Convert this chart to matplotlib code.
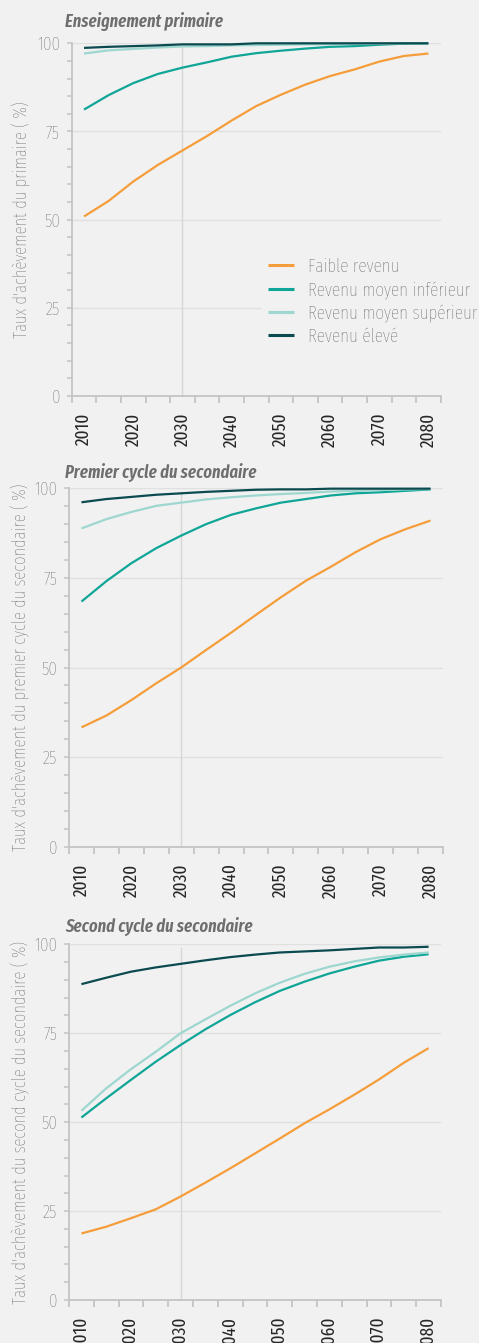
import matplotlib
matplotlib.use("Agg")
import matplotlib.pyplot as plt
from matplotlib.ticker import FixedLocator
import warnings
warnings.filterwarnings("ignore")

years = [2010, 2015, 2020, 2025, 2030, 2035, 2040, 2045, 2050, 2055, 2060, 2065, 2070, 2075, 2080]
series_names = ["Faible revenu", "Revenu moyen inférieur", "Revenu moyen supérieur", "Revenu élevé"]

primaire_faible = [50.9, 55.3, 60.8, 65.5, 69.6, 73.7, 78.1, 82.2, 85.4, 88.3, 90.7, 92.6, 94.8, 96.4, 97.1]
primaire_inf = [81.2, 85.3, 88.7, 91.3, 93.1, 94.6, 96.2, 97.2, 97.9, 98.5, 99.0, 99.2, 99.6, 99.9, 100.0]
primaire_sup = [97.1, 98.0, 98.4, 98.8, 99.1, 99.2, 99.4, 99.5, 99.6, 99.7, 99.75, 99.8, 99.9, 99.95, 100.0]
primaire_eleve = [98.7, 99.0, 99.2, 99.4, 99.7, 99.7, 99.7, 100.0, 100.0, 100.0, 100.0, 100.0, 100.0, 100.0, 100.0]

premier_faible = [33.3, 36.6, 40.9, 45.6, 50.0, 54.9, 59.7, 64.7, 69.6, 74.2, 78.1, 82.2, 85.8, 88.6, 91.0]
premier_inf = [68.4, 74.1, 79.1, 83.3, 86.8, 90.0, 92.6, 94.4, 96.0, 97.0, 98.0, 98.6, 98.9, 99.3, 99.7]
premier_sup = [88.8, 91.4, 93.4, 95.1, 96.0, 96.9, 97.5, 98.0, 98.4, 98.7, 99.1, 99.3, 99.5, 99.7, 99.8]
premier_eleve = [96.1, 97.0, 97.6, 98.2, 98.6, 99.0, 99.3, 99.6, 99.7, 99.7, 99.9, 99.9, 99.9, 99.9, 99.9]

second_faible = [18.7, 20.6, 23.0, 25.5, 29.1, 33.0, 37.0, 41.2, 45.4, 49.7, 53.6, 57.7, 62.0, 66.7, 70.8]
second_inf = [51.3, 56.7, 61.9, 67.0, 71.7, 76.1, 80.1, 83.7, 86.9, 89.5, 91.8, 93.7, 95.4, 96.5, 97.2]
second_sup = [53.2, 59.5, 64.9, 69.8, 75.0, 78.9, 82.7, 86.2, 89.2, 91.7, 93.7, 95.2, 96.3, 97.1, 97.7]
second_eleve = [88.8, 90.6, 92.3, 93.5, 94.5, 95.5, 96.4, 97.1, 97.7, 98.0, 98.3, 98.7, 99.1, 99.1, 99.3]

panel_titles = ["Enseignement primaire", "Premier cycle du secondaire", "Second cycle du secondaire"]
panel_ylabels = ["Taux d'achèvement du primaire ( %)",
                 "Taux d'achèvement du premier cycle du secondaire ( %)",
                 "Taux d'achèvement du second cycle du secondaire ( %)"]
panel_data = [
    [primaire_faible, primaire_inf, primaire_sup, primaire_eleve],
    [premier_faible, premier_inf, premier_sup, premier_eleve],
    [second_faible, second_inf, second_sup, second_eleve],
]
xtick_labels = [2010, 2020, 2030, 2040, 2050, 2060, 2070, 2080]
ytick_labels = [0, 25, 50, 75, 100]
ref_year = 2030

colors = ["#f59d3a", "#0fa597", "#9dd7cf", "#0b4a4f"]
BG = "#f1f1f1"
TXT = "#555555"
SPINE = "#c4c4c4"
GRID = "#e0e0e0"
FONT = ["Fira Sans Extra Condensed", "Fira Sans Condensed", "DejaVu Sans"]

W, H = 479, 1343
plt.rcParams['font.family'] = FONT
fig = plt.figure(figsize=(W / 100, H / 100), dpi=100, facecolor=BG)

rects = [(71.7, 440.7, 43.3, 396.0), (69.0, 443.0, 488.3, 846.7), (69.0, 441.0, 944.3, 1300.0)]
title_y = [22, 473, 927]
ylabel_x = [21, 20, 20]

for i, (l, r, t, b) in enumerate(rects):
    ax = fig.add_axes([l / W, 1 - b / H, (r - l) / W, (b - t) / H])
    ax.set_facecolor(BG)
    ax.set_xlim(2007.5, 2082.5)
    ax.set_ylim(0, 100)
    for y in ytick_labels[1:]:
        ax.axhline(y, color=GRID, lw=1.0, zorder=0)
    ax.axvline(ref_year, ymax=0.99, color="#d6d6d6", lw=1.0, zorder=0.5)
    for vals, c, n in zip(panel_data[i], colors, series_names):
        ax.plot(years, vals, color=c, lw=1.6, label=n, clip_on=False, zorder=3,
                solid_capstyle='butt')
    for s in ["top", "right"]:
        ax.spines[s].set_visible(False)
    for s in ["left", "bottom"]:
        ax.spines[s].set_color(SPINE)
        ax.spines[s].set_linewidth(1.3)
    ax.set_xticks(xtick_labels)
    ax.set_xticklabels([str(v) for v in xtick_labels], rotation=90, fontsize=13.5,
                       color="#262626", fontweight="normal")
    ax.xaxis.set_minor_locator(FixedLocator([2007.5 + 5 * k for k in range(16)]))
    ax.tick_params(axis="x", which="major", length=0, pad=12)
    ax.tick_params(axis="x", which="minor", length=5, color=SPINE, width=1.3)
    ax.set_yticks(ytick_labels)
    ax.set_yticklabels([str(v) for v in ytick_labels], fontsize=13.5, color="#606060",
                       fontweight="light")
    ax.yaxis.set_minor_locator(FixedLocator(list(range(0, 101, 5))))
    ax.tick_params(axis="y", which="both", length=3.5, color=SPINE, width=1.1, pad=5)
    fig.text(65 / W, 1 - title_y[i] / H, panel_titles[i], fontsize=13, fontweight="semibold",
             fontstyle="italic", color="#6e6e6e", ha="left", va="center")
    fig.text(ylabel_x[i] / W, 1 - ((t + b) / 2) / H, panel_ylabels[i], rotation=90,
             fontsize=13, color=TXT, ha="center", va="center", fontweight="light")
    if i == 0:
        leg = ax.legend(loc="upper left", bbox_to_anchor=(262 / W, 1 - 252 / H),
                        bbox_transform=fig.transFigure, frameon=True, facecolor=BG,
                        edgecolor="none", framealpha=1, handlelength=1.4,
                        handletextpad=0.75, labelspacing=0.3, borderpad=0.3,
                        borderaxespad=0, prop={"weight": "light", "size": 13.5})
        for t_ in leg.get_texts():
            t_.set_color(TXT)
        for h in leg.get_lines():
            h.set_linewidth(2.2)

fig.savefig("out.png", dpi=100, facecolor=BG)
